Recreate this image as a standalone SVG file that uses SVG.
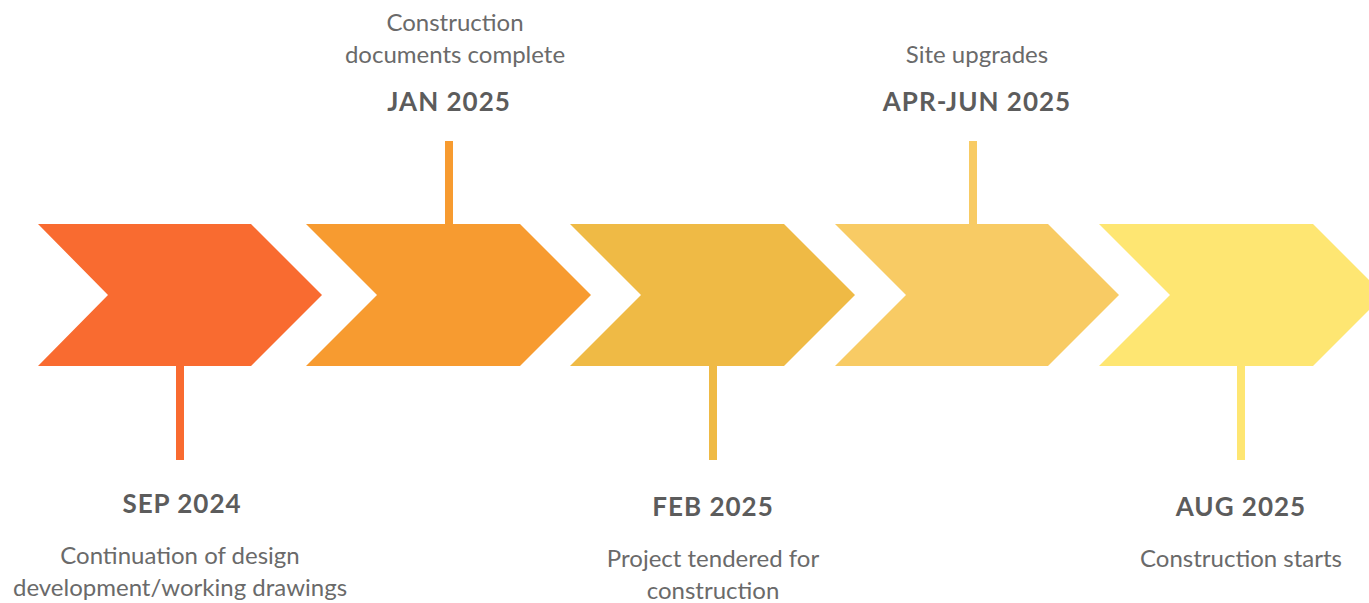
<svg xmlns="http://www.w3.org/2000/svg" width="1369" height="603" viewBox="0 0 1369 603">
<style>
.body{font-family:Lato,"Liberation Sans",sans-serif;font-size:24px;fill:#6a6a6a;text-anchor:middle;font-weight:400}
.head{font-family:Lato,"Liberation Sans",sans-serif;font-size:26px;fill:#5c5c5c;text-anchor:middle;font-weight:700;letter-spacing:1px}
</style>
<rect width="1369" height="603" fill="#ffffff"/>
<g id="connectors">
<rect x="176" y="366" width="8" height="94" fill="#F96B30"/>
<rect x="445" y="141" width="8" height="84" fill="#F79B30"/>
<rect x="709" y="366" width="8" height="94" fill="#EFBA45"/>
<rect x="969" y="141" width="8" height="84" fill="#F8CB64"/>
<rect x="1237" y="366" width="8" height="94" fill="#FEE672"/>
</g>
<g id="step1">
<polygon points="38,224 251,224 322,295 251,366 38,366 108,295" fill="#F96B30"/>
<text class="head" x="182" y="513">SEP 2024</text>
<text class="body" x="180" y="564">Continuation of design</text>
<text class="body" x="180" y="596">development/working drawings</text>
</g>
<g id="step2">
<polygon points="306,224 520,224 591,295 520,366 306,366 377,295" fill="#F79B30"/>
<text class="body" x="455" y="31">Construction</text>
<text class="body" x="455" y="63">documents complete</text>
<text class="head" x="449" y="111">JAN 2025</text>
</g>
<g id="step3">
<polygon points="570,224 784,224 855,295 784,366 570,366 641,295" fill="#EFBA45"/>
<text class="head" x="713" y="516">FEB 2025</text>
<text class="body" x="713" y="567">Project tendered for</text>
<text class="body" x="713" y="599">construction</text>
</g>
<g id="step4">
<polygon points="835,224 1048,224 1119,295 1048,366 835,366 906,295" fill="#F8CB64"/>
<text class="body" x="977" y="63">Site upgrades</text>
<text class="head" x="977" y="111">APR-JUN 2025</text>
</g>
<g id="step5">
<polygon points="1099,224 1313,224 1384,295 1313,366 1099,366 1170,295" fill="#FEE672"/>
<text class="head" x="1241" y="516">AUG 2025</text>
<text class="body" x="1241" y="567">Construction starts</text>
</g>
</svg>
